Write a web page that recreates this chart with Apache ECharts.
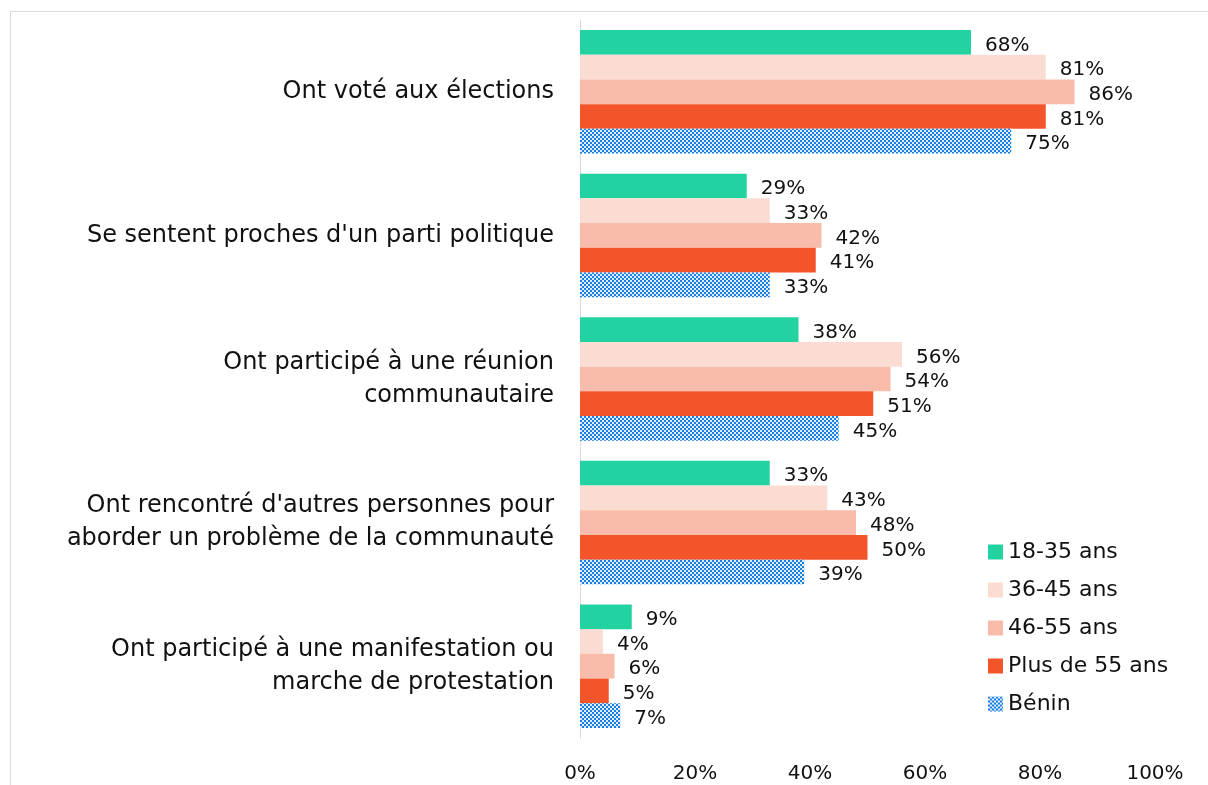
<!DOCTYPE html>
<html><head><meta charset="utf-8">
<script src="https://cdn.jsdelivr.net/npm/echarts@6/dist/echarts.min.js"></script>
<style>html,body{margin:0;padding:0;background:#fff}#c{width:1208px;height:785px}</style>
</head><body><div id="c"></div>
<script>
const categories = ["Ont voté aux élections","Se sentent proches d'un parti politique","Ont participé à une réunion\ncommunautaire","Ont rencontré d'autres personnes pour\naborder un problème de la communauté","Ont participé à une manifestation ou\nmarche de protestation"];
const seriesNames = ["18-35 ans","36-45 ans","46-55 ans","Plus de 55 ans","Bénin"];
const age18_35 = [68,29,38,33,9];
const age36_45 = [81,33,56,43,4];
const age46_55 = [86,42,54,48,6];
const age55plus = [81,41,51,50,5];
const benin = [75,33,45,39,7];
const xTicks = [0,20,40,60,80,100];

const FONT = "'DejaVu Sans', sans-serif";
const pc = document.createElement('canvas');
pc.width = 4; pc.height = 4;
const g = pc.getContext('2d');
g.fillStyle = '#dfeefb'; g.fillRect(0,0,4,4);
g.fillStyle = '#1b7fe3';
g.fillRect(0,0,2,2); g.fillRect(2,2,2,2);

const colors = ['#22d3a1','#fadcd3','#f9bbaa','#f2552a',{image: pc, repeat:'repeat'}];
const datasets = [age18_35, age36_45, age46_55, age55plus, benin];

const chart = echarts.init(document.getElementById('c'));
chart.setOption({
  animation:false,
  graphic:[{type:'rect',shape:{x:10.5,y:11.5,width:1300,height:900},style:{fill:'none',stroke:'#dcdcdc',lineWidth:1},silent:true}],
  legend:{
    orient:'vertical', left:983, top:536, icon:'rect', itemWidth:15, itemHeight:15, itemGap:16,
    textStyle:{fontFamily:FONT, fontSize:22, color:'#111'},
    data: seriesNames.map((n,i)=>({name:n, itemStyle:{color: i===4? {image:pc,repeat:'repeat'} : colors[i]}}))
  },
  grid:{left:580, right:53, top:20, bottom:47},
  xAxis:{type:'value', min:0, max:100, interval:20,
    axisLine:{show:false}, axisTick:{show:false}, splitLine:{show:false},
    axisLabel:{formatter:'{value}%', fontFamily:FONT, fontSize:20, color:'#111', margin:26}},
  yAxis:{type:'category', inverse:true, data:categories,
    axisLine:{show:true, lineStyle:{color:'#d9d9d9', width:1}}, axisTick:{show:false},
    axisLabel:{fontFamily:FONT, fontSize:24, color:'#111', margin:26, lineHeight:33, align:'right'}},
  series: seriesNames.map((n,i)=>({
    name:n, type:'bar', data:datasets[i], barGap:'0%', barCategoryGap:'14%',
    itemStyle:{color: colors[i]},
    label:{show:true, position:'right', distance:14, offset:[0,3], formatter:'{c}%', fontFamily:FONT, fontSize:20, color:'#111'}
  }))
});
</script></body></html>
